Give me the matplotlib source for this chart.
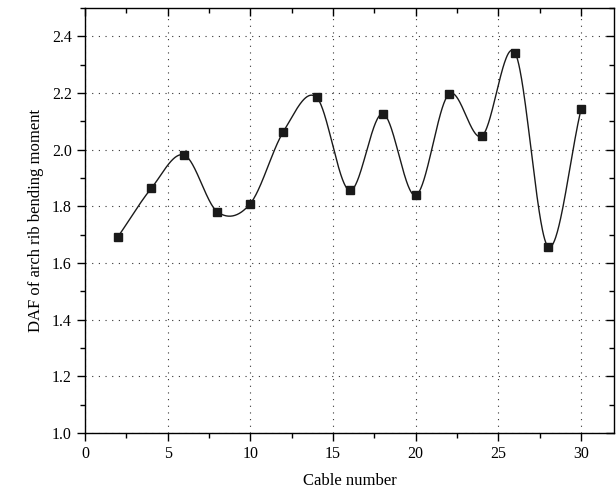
import numpy as np
import matplotlib
matplotlib.use("Agg")
import matplotlib.pyplot as plt
from matplotlib.ticker import MultipleLocator, FormatStrFormatter

plt.rcParams["font.family"] = ["Liberation Serif", "DejaVu Serif"]

cable = [2, 4, 6, 8, 10, 12, 14, 16, 18, 20, 22, 24, 26, 28, 30]
daf = [1.693, 1.863, 1.981, 1.781, 1.810, 2.064, 2.185, 1.856,
       2.127, 1.839, 2.196, 2.048, 2.343, 1.658, 2.143]


def cardinal_spline(x, y, per_seg=60):
    # Catmull-Rom style curve through the points (smooth connection line)
    x = np.asarray(x, float)
    y = np.asarray(y, float)
    m = np.empty_like(y)
    m[1:-1] = (y[2:] - y[:-2]) / (x[2:] - x[:-2])
    m[0] = (y[1] - y[0]) / (x[1] - x[0])
    m[-1] = (y[-1] - y[-2]) / (x[-1] - x[-2])
    xs, ys = [], []
    for i in range(len(x) - 1):
        h = x[i + 1] - x[i]
        t = np.linspace(0, 1, per_seg, endpoint=False)
        h00 = 2 * t ** 3 - 3 * t ** 2 + 1
        h10 = t ** 3 - 2 * t ** 2 + t
        h01 = -2 * t ** 3 + 3 * t ** 2
        h11 = t ** 3 - t ** 2
        xs.append(x[i] + t * h)
        ys.append(h00 * y[i] + h10 * h * m[i] + h01 * y[i + 1] + h11 * h * m[i + 1])
    xs.append([x[-1]])
    ys.append([y[-1]])
    return np.concatenate(xs), np.concatenate(ys)


fig = plt.figure(figsize=(6.16, 5.04), dpi=100)
ax = fig.add_axes([0.138, 0.141, 0.859, 0.843])

xs, ys = cardinal_spline(cable, daf)
ax.plot(xs, ys, color="#1a1a1a", lw=1.0, zorder=3)
ax.plot(cable, daf, "s", color="#1a1a1a", ms=6, zorder=4)

ax.set_xlim(0, 32)
ax.set_ylim(1.0, 2.5)
ax.xaxis.set_major_locator(MultipleLocator(5))
ax.xaxis.set_minor_locator(MultipleLocator(2.5))
ax.yaxis.set_major_locator(MultipleLocator(0.2))
ax.yaxis.set_minor_locator(MultipleLocator(0.1))
ax.yaxis.set_major_formatter(FormatStrFormatter("%.1f"))

ax.grid(True, which="major", color="#333333", linestyle=(0, (1, 5)), lw=0.8)
ax.tick_params(axis="both", which="major", direction="out", length=6, width=1, labelsize=11.5)
ax.tick_params(axis="both", which="minor", direction="out", length=3.5, width=1)
ax.tick_params(top=True, right=True, which="both")
for t in ax.xaxis.get_major_ticks() + ax.xaxis.get_minor_ticks():
    t.tick2line.set_marker(3)
for t in ax.yaxis.get_major_ticks() + ax.yaxis.get_minor_ticks():
    t.tick2line.set_marker(0)
for s in ax.spines.values():
    s.set_linewidth(1.0)

ax.set_xlabel("Cable number", fontsize=12, labelpad=8)
ax.set_ylabel("DAF of arch rib bending moment", fontsize=12, labelpad=6)

fig.savefig("out.png", dpi=100)
